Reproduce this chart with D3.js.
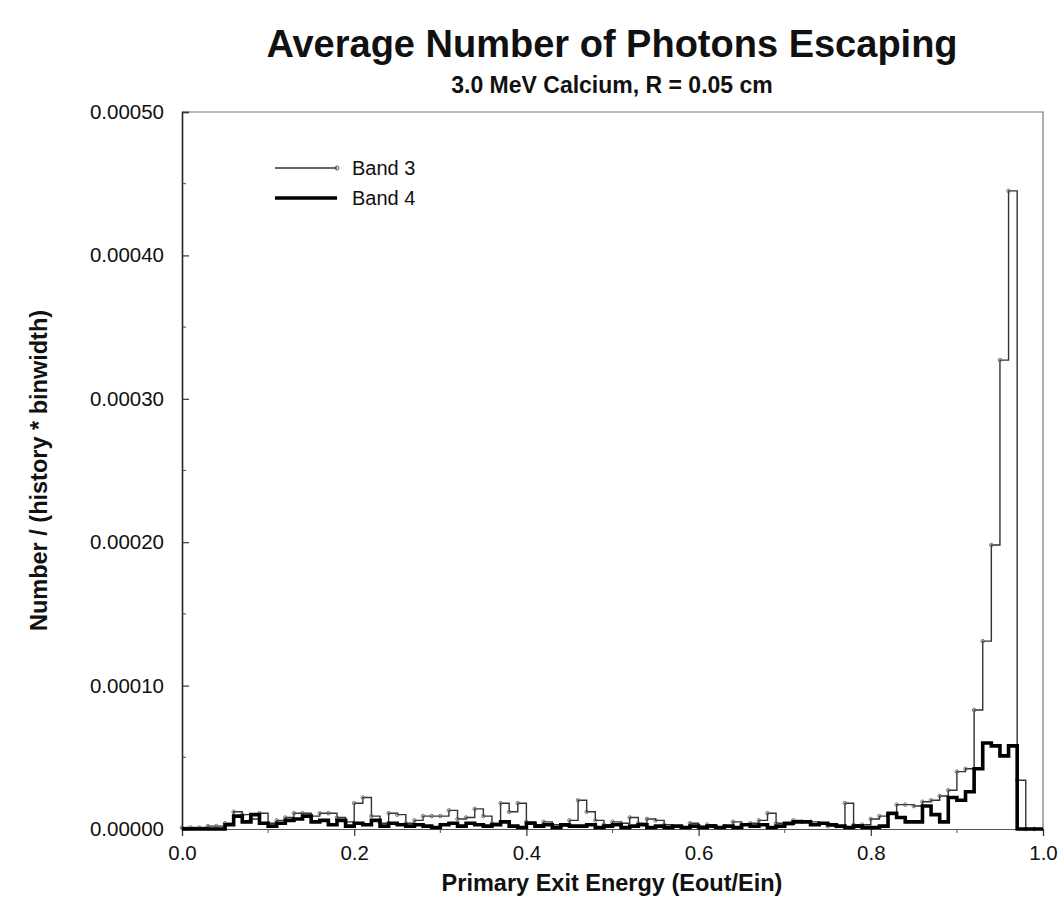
<!DOCTYPE html>
<html>
<head>
<meta charset="utf-8">
<script src="https://cdn.jsdelivr.net/npm/d3@7"></script>
<style>
  html, body { margin: 0; padding: 0; background: #fff; }
  svg { display: block; }
  text { font-family: "Liberation Sans", Arial, Helvetica, sans-serif; fill: #111; }
</style>
</head>
<body>
<svg id="chart" width="1064" height="904"></svg>
<script>
// Histogram bins: 100 bins of width 0.01 over Eout/Ein in [0, 1]
const binWidth = 0.01;
const binStarts = d3.range(100).map(i => +(i * binWidth).toFixed(2));

// Band 3 counts per bin (number / (history * binwidth)), in units of 1e-6
const band3 = [
  1, 1, 1, 2, 2, 4, 12, 10, 7, 11,
  4, 6, 8, 11, 11, 9, 11, 11, 8, 5,
  18, 22, 9, 4, 11, 10, 4, 6, 9, 9,
  9, 13, 7, 8, 14, 9, 4, 18, 12, 18,
  5, 3, 5, 3, 2, 6, 20, 12, 6, 3,
  5, 4, 8, 4, 7, 6, 3, 2, 1, 4,
  2, 3, 1, 2, 5, 3, 4, 6, 11, 4,
  3, 6, 5, 5, 4, 2, 2, 18, 3, 3,
  7, 9, 10, 17, 17, 16, 19, 20, 23, 27,
  40, 42, 83, 131, 198, 327, 445, 34, 0, 0
].map(v => v * 1e-6);

// Band 4 counts per bin, in units of 1e-6
const band4 = [
  0, 0, 0, 0, 0, 3, 9, 5, 10, 4,
  2, 4, 6, 7, 9, 5, 6, 3, 6, 2,
  4, 3, 6, 2, 4, 3, 2, 3, 2, 1,
  3, 4, 2, 4, 3, 2, 3, 5, 2, 1,
  4, 2, 3, 1, 3, 2, 2, 3, 1, 2,
  3, 1, 2, 3, 1, 2, 1, 2, 1, 2,
  1, 2, 1, 2, 1, 3, 2, 3, 1, 2,
  4, 5, 5, 3, 4, 3, 2, 1, 2, 1,
  1, 2, 11, 8, 5, 5, 16, 10, 5, 22,
  20, 26, 42, 60, 58, 51, 58, 0, 0, 0
].map(v => v * 1e-6);

const xTicks = [0.0, 0.2, 0.4, 0.6, 0.8, 1.0];
const xMinorTicks = [0.1, 0.3, 0.5, 0.7, 0.9];
const yTicks = [0, 0.0001, 0.0002, 0.0003, 0.0004, 0.0005];
const yMinorTicks = [0.00005, 0.00015, 0.00025, 0.00035, 0.00045];

const seriesNames = ["Band 3", "Band 4"];

const svg = d3.select("#chart");
const m = { left: 182, right: 1043, top: 112, bottom: 829 };
const FONT = "Liberation Sans, Arial, sans-serif";

const x = d3.scaleLinear().domain([0, 1]).range([m.left, m.right]);
const y = d3.scaleLinear().domain([0, 0.0005]).range([m.bottom, m.top]);

// Frame (top and right edges, thin grey)
svg.append("path")
  .attr("d", `M${m.left},${m.top}H${m.right}V${m.bottom}`)
  .attr("fill", "none").attr("stroke", "#777").attr("stroke-width", 1.2);

// X axis: major ticks outward, minor ticks shorter
const xAxis = d3.axisBottom(x).tickValues(xTicks).tickFormat(d3.format(".1f"))
  .tickSize(7).tickPadding(9);
const gx = svg.append("g").attr("transform", `translate(0,${m.bottom})`).call(xAxis);
gx.select(".domain").attr("stroke", "#555").attr("stroke-width", 1.2);
gx.selectAll(".tick line").attr("stroke", "#333").attr("stroke-width", 1.2);
gx.selectAll("text").attr("font-size", 20.5).attr("fill", "#111").attr("font-family", FONT);
svg.append("g").selectAll("line").data(xMinorTicks).join("line")
  .attr("x1", d => x(d)).attr("x2", d => x(d))
  .attr("y1", m.bottom).attr("y2", m.bottom + 4)
  .attr("stroke", "#555").attr("stroke-width", 1);

// Y axis: ticks point into the plot
const yAxis = d3.axisLeft(y).tickValues(yTicks).tickFormat(d3.format(".5f"))
  .tickSize(-7).tickPadding(18);
const gy = svg.append("g").attr("transform", `translate(${m.left},0)`).call(yAxis);
gy.select(".domain").attr("stroke", "#222").attr("stroke-width", 1.6);
gy.selectAll(".tick line").attr("stroke", "#333").attr("stroke-width", 1.2);
gy.selectAll("text").attr("font-size", 20.5).attr("fill", "#111").attr("font-family", FONT);
svg.append("g").selectAll("line").data(yMinorTicks).join("line")
  .attr("x1", m.left).attr("x2", m.left + 4)
  .attr("y1", d => y(d)).attr("y2", d => y(d))
  .attr("stroke", "#444").attr("stroke-width", 1);

// Step outline for a histogram series
function stepPath(values) {
  const pts = [];
  values.forEach((v, i) => {
    pts.push([binStarts[i], v]);
    pts.push([binStarts[i] + binWidth, v]);
  });
  pts.unshift([0, 0]);
  return d3.line().x(d => x(d[0])).y(d => y(d[1]))(pts);
}

// Band 3: thin line with small markers at each bin
svg.append("path").attr("d", stepPath(band3))
  .attr("fill", "none").attr("stroke", "#333").attr("stroke-width", 1.4)
  .attr("stroke-linejoin", "miter");
svg.append("g").selectAll("circle").data(band3).join("circle")
  .attr("cx", (d, i) => x(binStarts[i]))
  .attr("cy", d => y(d))
  .attr("r", 1.8)
  .attr("fill", "none").attr("stroke", "#666").attr("stroke-width", 0.9);

// Band 4: heavy line
svg.append("path").attr("d", stepPath(band4))
  .attr("fill", "none").attr("stroke", "#000").attr("stroke-width", 3.6)
  .attr("stroke-linejoin", "miter");

// Legend
const legend = svg.append("g");
const lx0 = 275, lx1 = 337;
[168, 198].forEach((ly, i) => {
  legend.append("line").attr("x1", lx0).attr("x2", lx1).attr("y1", ly).attr("y2", ly)
    .attr("stroke", i === 0 ? "#333" : "#000").attr("stroke-width", i === 0 ? 1.4 : 3.6);
  if (i === 0) {
    legend.append("circle").attr("cx", lx1).attr("cy", ly).attr("r", 2)
      .attr("fill", "none").attr("stroke", "#555").attr("stroke-width", 1);
  }
  legend.append("text").attr("x", 352).attr("y", ly + 7)
    .attr("font-size", 20).text(seriesNames[i]);
});

// Titles
svg.append("text").attr("x", 612).attr("y", 57).attr("text-anchor", "middle")
  .attr("font-size", 38).attr("font-weight", "bold").text("Average Number of Photons Escaping");
svg.append("text").attr("x", 612).attr("y", 93).attr("text-anchor", "middle")
  .attr("font-size", 23).attr("font-weight", "bold").text("3.0 MeV Calcium, R = 0.05 cm");
svg.append("text").attr("x", 612).attr("y", 891).attr("text-anchor", "middle")
  .attr("font-size", 23.5).attr("font-weight", "bold").text("Primary Exit Energy (Eout/Ein)");
svg.append("text").attr("transform", `translate(47,${(m.top + m.bottom) / 2}) rotate(-90)`)
  .attr("text-anchor", "middle")
  .attr("font-size", 23.5).attr("font-weight", "bold").text("Number / (history * binwidth)");
</script>
</body>
</html>
